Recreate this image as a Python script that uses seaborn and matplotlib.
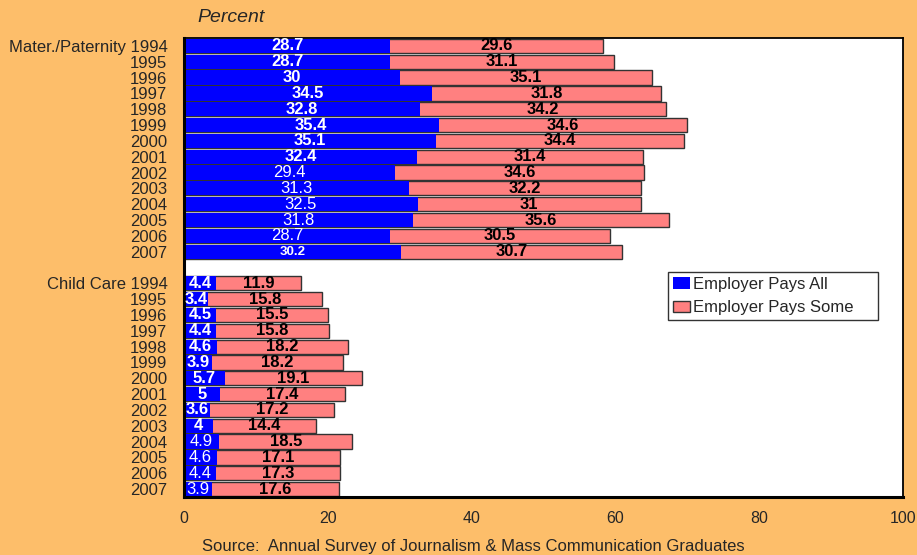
import pandas as pd
import matplotlib
matplotlib.use("Agg")
import matplotlib.pyplot as plt
import seaborn as sns

# values
years = [str(y) for y in range(1994, 2008)]
mater_all = [28.7, 28.7, 30, 34.5, 32.8, 35.4, 35.1, 32.4, 29.4, 31.3, 32.5, 31.8, 28.7, 30.2]
mater_some = [29.6, 31.1, 35.1, 31.8, 34.2, 34.6, 34.4, 31.4, 34.6, 32.2, 31, 35.6, 30.5, 30.7]
child_all = [4.4, 3.4, 4.5, 4.4, 4.6, 3.9, 5.7, 5, 3.6, 4, 4.9, 4.6, 4.4, 3.9]
child_some = [11.9, 15.8, 15.5, 15.8, 18.2, 18.2, 19.1, 17.4, 17.2, 14.4, 18.5, 17.1, 17.3, 17.6]
# label style of the blue numbers in the original (bold / normal / small bold)
mater_style = ["b"] * 8 + ["n"] * 5 + ["s"]
child_style = ["b"] * 10 + ["n"] * 4

BG = "#FDBE6A"
BLUE = "#0000FF"
PINK = "#FF8080"

sns.set_style("white")
plt.rcParams["font.family"] = ["Liberation Sans", "DejaVu Sans"]

# build one table, keys keep the two groups apart
rows = []
for i, y in enumerate(years):
    rows.append(dict(key="M" + y, all=mater_all[i], some=mater_some[i], style=mater_style[i]))
for i, y in enumerate(years):
    rows.append(dict(key="C" + y, all=child_all[i], some=child_some[i], style=child_style[i]))
df = pd.DataFrame(rows)
df["total"] = df["all"] + df["some"]

order = ["M" + y for y in years] + ["gap"] + ["C" + y for y in years]
ticklabels = ["Mater./Paternity 1994"] + years[1:] + [""] + ["Child Care 1994"] + years[1:]

fig = plt.figure(figsize=(9.17, 5.55), dpi=100, facecolor=BG)
ax = fig.add_axes([0.2007, 0.1045, 0.784, 0.827])
ax.set_facecolor("white")

# pink = full stack, blue drawn over it
sns.barplot(data=df, x="total", y="key", order=order, orient="h", color=PINK,
            saturation=1, width=0.9, edgecolor="#333333", linewidth=1, ax=ax,
            label="Employer Pays Some")
sns.barplot(data=df, x="all", y="key", order=order, orient="h", color=BLUE,
            saturation=1, width=0.9, linewidth=0, ax=ax, label="Employer Pays All")

# labels in the centre of each segment
pos = {k: i for i, k in enumerate(order)}
for _, r in df.iterrows():
    yy = pos[r["key"]]
    if r["style"] == "b":
        kw = dict(fontsize=12, fontweight="bold")
    elif r["style"] == "n":
        kw = dict(fontsize=12)
    else:
        kw = dict(fontsize=9.5, fontweight="bold")
    ax.text(r["all"] / 2, yy, f"{r['all']:g}", color="white", ha="center", va="center", **kw)
    ax.text(r["all"] + r["some"] / 2, yy, f"{r['some']:g}", color="black",
            ha="center", va="center", fontsize=12, fontweight="bold")

ax.set_xlim(0, 100)
ax.set_ylim(len(order) - 0.5, -0.5)
ax.set_xticks([0, 20, 40, 60, 80, 100])
ax.set_yticks(range(len(order)))
ax.set_yticklabels(ticklabels)
ax.tick_params(axis="y", length=0, pad=12, labelsize=12)
ax.tick_params(axis="x", length=0, pad=10, labelsize=11.5)
ax.set_xlabel("")
ax.set_ylabel("")
for side, sp in ax.spines.items():
    sp.set_visible(True)
    sp.set_color("black")
    sp.set_linewidth(2.2 if side in ("left", "bottom") else 1.3)

# legend, blue first, box stretched to the width of the original
h, l = ax.get_legend_handles_labels()
leg = ax.legend(h[::-1], l[::-1], loc="upper left", bbox_to_anchor=(0.673, 0.39, 0.292, 0.1),
                mode="expand", fontsize=12, frameon=True, fancybox=False, borderpad=0.3,
                handlelength=1.0, handleheight=0.7, handletextpad=0.2,
                labelspacing=0.5, borderaxespad=0)
leg.get_frame().set_edgecolor("black")
leg.get_frame().set_linewidth(1)

fig.text(0.215, 0.969, "Percent", fontsize=14, style="italic", va="center")
fig.text(0.516, 0.016, "Source:  Annual Survey of Journalism & Mass Communication Graduates",
         fontsize=12, ha="center", va="center")

fig.savefig("out.png", dpi=100, facecolor=BG)
